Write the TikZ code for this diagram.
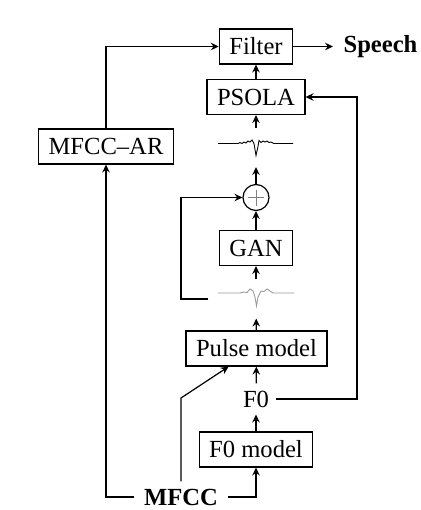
\documentclass[tikz,border=0pt]{standalone}
\usepackage{fontspec}
\setmainfont{Liberation Serif}
\usetikzlibrary{arrows.meta}

\begin{document}
\begin{tikzpicture}[x=0.5pt,y=-0.5pt,line width=0.6pt,>={Stealth[length=4pt,width=3.8pt,inset=1.4pt]},font=\fontsize{12.3}{14}\selectfont]
	\tikzstyle{block}=[draw=black,minimum height=17.5pt,inner xsep=5pt]
	\tikzstyle{wave}=[minimum width=47pt,minimum height=19pt,inner sep=0pt]
	\tikzstyle{sum}=[circle,draw=black,minimum size=13pt,inner sep=0pt]
	\useasboundingbox (0,0) rectangle (420,510);
	\node[block] (filter) at (256,46.5) {Filter};
	\node[anchor=west,inner xsep=5pt] (speech) at (333,46.5) {\textbf{Speech}};
	\node[block] (psola) at (256,97) {PSOLA};
	\node[wave] (wa) at (256,147.5) {};
	\node[sum,path picture={\draw[gray,line width=0.4pt] ([yshift=-2.5pt]path picture bounding box.north) -- ([yshift=2.5pt]path picture bounding box.south) ([xshift=2.5pt]path picture bounding box.west) -- ([xshift=-2.5pt]path picture bounding box.east);}] (sum) at (256,197.5) {};
	\node[block] (gan) at (256,248) {GAN};
	\node[wave] (wb) at (256,299) {};
	\node[block] (pulse) at (256.5,348.5) {Pulse model};
	\node (fzero) at (256,399) {F0};
	\node[block] (f0model) at (256,449.5) {F0 model};
	\node[block] (mfccar) at (106,146.5) {MFCC--AR};
	\node[inner xsep=5pt] (mfcc) at (181,497) {\textbf{MFCC}};
	\coordinate (fb) at (181,299);
	\coordinate (bend) at (181,398);
	\coordinate (ret) at (357,399);
	% waveforms
	\draw[line width=0.45pt,shift={(wa.center)}] plot coordinates {(-38,-4) (-18,-4) (-16,-5) (-14,-4) (-12,-5.5) (-10,-4.5) (-8,-6.5) (-6,-5.5) (-4,-7.5) (-2,-4) (0,8) (2,-1) (3,-7) (5,-5) (7,-6.5) (9,-5.5) (11,-6.5) (13,-5) (15,-5.5) (18,-4) (37,-4)};
	\draw[gray!80,line width=0.45pt,shift={(wb.center)}] plot coordinates {(-38,-6) (-16,-6) (-12,-7) (-9,-6.5) (-6,-10) (-3,-8) (-1,-2) (0.5,7) (2,-2) (5,-8) (8,-7.5) (11,-10) (14,-8) (17,-6) (38,-6)};
	% connectors
	\draw[->] (psola) -- (filter);
	\draw[->] (filter) -- (speech);
	\draw[->] (wa) -- (psola);
	\draw[->] (sum) -- (wa);
	\draw[->] (gan) -- (sum);
	\draw[->] (wb) -- (gan);
	\draw[->] (pulse) -- (wb);
	\draw[->] (fzero) -- (pulse);
	\draw[->] (f0model) -- (fzero);
	\draw[->] (mfcc.east) -| (f0model);
	\draw[->] (mfcc.west) -| (mfccar);
	\draw[->] (mfccar) |- (filter);
	\draw[->] (fzero) -- (ret) |- (psola);
	\draw[->] (wb.west) -- (fb) |- (sum);
	\draw[->] (mfcc.north) -- (bend) -- (pulse.-147);
\end{tikzpicture}
\end{document}
